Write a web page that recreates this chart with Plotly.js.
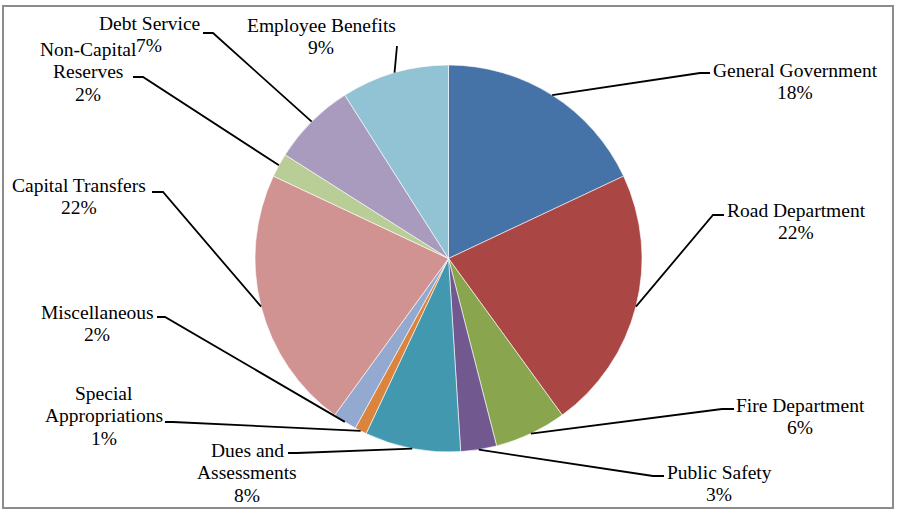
<!DOCTYPE html>
<html>
<head>
<meta charset="utf-8">
<script src="https://cdn.plot.ly/plotly-3.0.1.min.js"></script>
<style>
html,body{margin:0;padding:0;background:#fff;}
#chart{width:897px;height:510px;}
</style>
</head>
<body>
<div id="chart"></div>
<script>
// ---- data ----
const categories = ["General Government", "Road Department", "Fire Department", "Public Safety",
  "Dues and Assessments", "Special Appropriations", "Miscellaneous", "Capital Transfers",
  "Non-Capital Reserves", "Debt Service", "Employee Benefits"];
const values = [18, 22, 6, 3, 8, 1, 2, 22, 2, 7, 9];
const labelLines = [["General Government"], ["Road Department"], ["Fire Department"], ["Public Safety"],
  ["Dues and", "Assessments"], ["Special", "Appropriations"], ["Miscellaneous"], ["Capital Transfers"],
  ["Non-Capital", "Reserves"], ["Debt Service"], ["Employee Benefits"]];
const colors = ["#4572A7", "#AA4643", "#89A54E", "#71588F", "#4198AF", "#DB843D",
  "#93A9CF", "#D19392", "#B9CD96", "#A99BBD", "#92C3D4"];

// ---- layout (pixel placement of labels and leader elbows) ----
const W = 897, H = 510;
const cx = 448.5, cy = 258.5, R = 193.5;
const lineH = 22.5;
// label: center x, center y of first line; elbow (end of slanted part) and end of short horizontal part
const labelPos = [
  {x: 795, y: 70, ex: 700, ey: 73, hx: 710},
  {x: 796, y: 210, ex: 713, ey: 215, hx: 724},
  {x: 800, y: 405, ex: 722, ey: 409, hx: 734},
  {x: 719, y: 472, ex: 653, ey: 476, hx: 664},
  {x: 247, y: 450, ex: 297, ey: 453, hx: 288},
  {x: 104, y: 393, ex: 173, ey: 422, hx: 165},
  {x: 97, y: 312, ex: 165, ey: 317, hx: 157},
  {x: 79, y: 185, ex: 163, ey: 192, hx: 152},
  {x: 88, y: 49, ex: 143, ey: 77, hx: 133},
  {x: 149, y: 23, ex: 213, ey: 33, hx: 203},
  {x: 321, y: 25, ex: 397, ey: 46, hx: 397}
];

const total = values.reduce((a, b) => a + b, 0);
let cum = 0;
const shapes = [];
const annotations = [];
values.forEach((v, i) => {
  const mid = (cum + v / 2) / total * 2 * Math.PI;
  cum += v;
  const ax = cx + R * Math.sin(mid);
  const ay = cy - R * Math.cos(mid);
  const p = labelPos[i];
  shapes.push({
    type: 'path', xref: 'x', yref: 'y',
    path: `M ${ax} ${ay} L ${p.ex} ${p.ey} L ${p.hx} ${p.ey}`,
    line: {color: '#000', width: 1.8}
  });
  const lines = labelLines[i].concat([Math.round(v / total * 100) + '%']);
  lines.forEach((t, k) => {
    annotations.push({
      xref: 'x', yref: 'y', x: p.x, y: p.y + k * lineH, xanchor: 'center', yanchor: 'middle',
      text: t, showarrow: false, align: 'center',
      font: {family: 'Liberation Serif', size: 19.5, color: '#000'}
    });
  });
});
// chart border
shapes.push({type: 'rect', xref: 'x', yref: 'y', x0: 3, y0: 6, x1: 893, y1: 508,
  line: {color: '#8c8c8c', width: 2}, layer: 'below'});

const trace = {
  type: 'pie', labels: categories, values: values, sort: false, direction: 'clockwise',
  rotation: 0, textinfo: 'none', hoverinfo: 'label+percent',
  marker: {colors: colors, line: {color: '#ffffff', width: 0.6}},
  domain: {x: [0, 1], y: [(H - cy - R) / H, (H - cy + R) / H]},
  showlegend: false
};

const layout = {
  width: W, height: H, margin: {l: 0, r: 0, t: 0, b: 0},
  font: {family: 'Liberation Serif'},
  paper_bgcolor: '#fff', plot_bgcolor: 'rgba(0,0,0,0)',
  xaxis: {range: [0, W], visible: false, fixedrange: true},
  yaxis: {range: [H, 0], visible: false, fixedrange: true},
  shapes: shapes, annotations: annotations, showlegend: false
};

Plotly.newPlot('chart', [trace], layout, {displayModeBar: false, staticPlot: true});
</script>
</body>
</html>
